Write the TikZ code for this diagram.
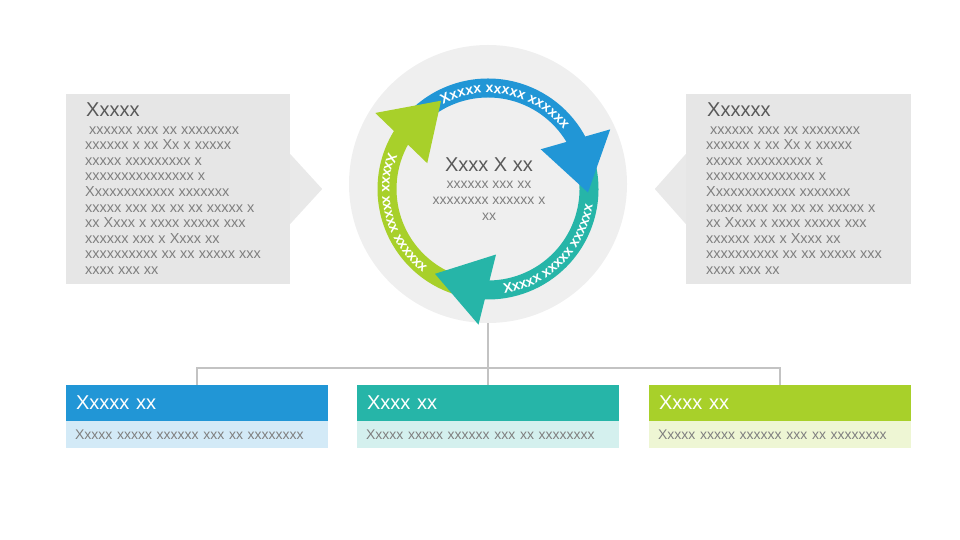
\documentclass[tikz,border=0pt]{standalone}
\usepackage{xcolor}
\usepackage{fontspec}
\setmainfont{Liberation Sans}
\usepackage{tikz}
\usetikzlibrary{positioning,calc,decorations.text}
\definecolor{panelGray}{HTML}{E6E6E6}
\definecolor{hubGray}{HTML}{EFEFEF}
\definecolor{titleGray}{HTML}{595959}
\definecolor{bodyGray}{HTML}{7F7F7F}
\definecolor{linkGray}{HTML}{C3C3C3}
\definecolor{cycBlue}{HTML}{2196D6}
\definecolor{cycTeal}{HTML}{26B5A8}
\definecolor{cycGreen}{HTML}{A8D02A}
\newcommand{\arcFont}{\bfseries\fontsize{14}{14}\selectfont}

\begin{document}
\begin{tikzpicture}[x=1pt,y=1pt,
  panelbox/.style={fill=panelGray,minimum width=224pt,minimum height=190pt,inner sep=0pt},
  titletext/.style={font=\fontsize{20}{22}\selectfont,text=titleGray,inner sep=0pt},
  bodytext/.style={font=\fontsize{14.5}{15.6}\selectfont,text=bodyGray,inner sep=0pt,align=left},
  headbox/.style={minimum height=36pt,text width=242pt,inner xsep=10pt,inner ysep=0pt,align=left,font=\fontsize{20}{22}\selectfont,text=white},
  stripbox/.style={minimum height=27pt,text width=244pt,inner xsep=9pt,inner ysep=0pt,align=left,font=\fontsize{14}{16}\selectfont,text=bodyGray},
  linkline/.style={draw=linkGray,line width=1.5pt}]
\useasboundingbox (0,0) rectangle (960,540);
% side panels with pointers
\node[panelbox] (lp) at (178,351) {};
\fill[panelGray!90!white] ([yshift=35pt]lp.east) -- ([xshift=32pt]lp.east) -- ([yshift=-35pt]lp.east) -- cycle;
\node[panelbox,minimum width=225pt] (rp) at (798.5,351) {};
\fill[panelGray!90!white] ([yshift=35pt]rp.west) -- ([xshift=-31pt]rp.west) -- ([yshift=-35pt]rp.west) -- cycle;
\node[titletext,anchor=base west] (lpTitle) at (86,423) {Xxxxx};
\node[bodytext,anchor=north west] (lpText) at (85,417) {\strut\ xxxxxx xxx xx xxxxxxxx\\xxxxxx x xx Xx x xxxxx\\xxxxx xxxxxxxxx x\\xxxxxxxxxxxxxxx x\\Xxxxxxxxxxxx xxxxxxx\\xxxxx xxx xx xx xx xxxxx x\\xx Xxxx x xxxx xxxxx xxx\\xxxxxx xxx x Xxxx xx\\xxxxxxxxxx xx xx xxxxx xxx\\xxxx xxx xx};
\node[titletext,anchor=base west] (rpTitle) at (707,423) {Xxxxxx};
\node[bodytext,anchor=north west] (rpText) at (706,417) {\strut\ xxxxxx xxx xx xxxxxxxx\\xxxxxx x xx Xx x xxxxx\\xxxxx xxxxxxxxx x\\xxxxxxxxxxxxxxx x\\Xxxxxxxxxxxx xxxxxxx\\xxxxx xxx xx xx xx xxxxx x\\xx Xxxx x xxxx xxxxx xxx\\xxxxxx xxx x Xxxx xx\\xxxxxxxxxx xx xx xxxxx xxx\\xxxx xxx xx};
% hub with cycle
\node[circle,fill=hubGray,minimum size=278pt,inner sep=0pt] (hub) at (488,356) {};
\coordinate (ring) at (488,351);
\begin{scope}[shift={(ring)}]
\draw[cycBlue,line width=19pt] (133:101) arc[start angle=133,end angle=24,radius=101];
\draw[cycTeal,line width=19pt] (13:101) arc[start angle=13,end angle=-96,radius=101];
\draw[cycGreen,line width=19pt] (253:101) arc[start angle=253,end angle=144,radius=101];
\foreach \r/\c in {0/cycBlue,-120/cycTeal,120/cycGreen}
  \fill[\c,rotate=\r] (37:66) -- (26:136) -- (-2:100) -- cycle;
\path[decorate,decoration={text along path,text align=center,text color=white,text={|\arcFont|Xxxxx xxxxx xxxxxx}}]
  (140:96) arc[start angle=140,end angle=16,radius=96];
\path[decorate,decoration={text along path,text align=center,text color=white,text={|\arcFont|Xxxxx xxxxx xxxxxx}}]
  (-107:106) arc[start angle=-107,end angle=17,radius=106];
\path[decorate,decoration={text along path,text align=center,text color=white,text={|\arcFont|Xxxxx xxxxx xxxxxx}}]
  (134:106) arc[start angle=134,end angle=258,radius=106];
\end{scope}
\node[titletext,anchor=base] (hubTitle) at (489,368) {Xxxx X xx};
\node[bodytext,align=center,anchor=north,font=\fontsize{14}{16}\selectfont] (hubText) at (489,363) {\strut xxxxxx xxx xx\\xxxxxxxx xxxxxx x\\xx};
% bottom boxes
\coordinate (bus) at (488,172);
\draw[linkline] (hub.south) -- (bus);
\foreach \n/\x/\c/\t in {A/197/cycBlue/Xxxxx xx,B/488/cycTeal/Xxxx xx,C/780/cycGreen/Xxxx xx}{
  \node[headbox,fill=\c] (hd\n) at (\x,137) {\t};
  \node[stripbox,fill=\c!20,below=0pt of hd\n] (st\n) {Xxxxx xxxxx xxxxxx xxx xx xxxxxxxx};
  \draw[linkline] (bus) -| (hd\n.north);
}
\end{tikzpicture}
\end{document}
